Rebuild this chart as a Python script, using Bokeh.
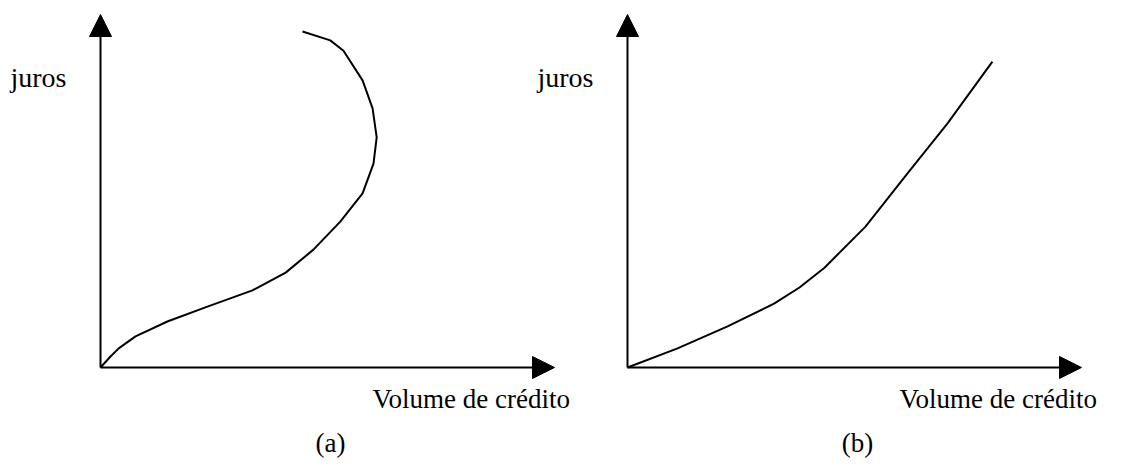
from bokeh.plotting import figure
from bokeh.models import Arrow, NormalHead, Range1d
from bokeh.core.properties import value
from bokeh.embed import file_html
from bokeh.resources import INLINE

# ---- data (arbitrary units, origin at each panel's axes) ----
vol_a = [0, 2.2, 4.0, 7.7, 14.7, 23.5, 33.4, 40.7, 46.8, 52.7, 57.6, 60.0, 60.7, 59.8, 57.6, 53.4, 50.5, 44.4]
juros_a = [0, 3.1, 5.4, 8.8, 13.0, 17.2, 21.8, 26.8, 33.3, 41.2, 49.2, 57.6, 65.0, 73.2, 81.1, 89.5, 92.4, 94.9]
vol_b = [0, 11.0, 22.0, 32.3, 37.8, 43.3, 52.3, 61.5, 70.3, 80.2]
juros_b = [0, 5.4, 11.6, 18.1, 22.6, 28.2, 39.8, 54.8, 68.9, 86.4]
y_label = "juros"
x_label = "Volume de crédito"
panel_labels = ["(a)", "(b)"]

# ---- layout ----
W, H = 1122, 467
PX_X, PX_Y = 4.55, 3.54          # pixels per data unit
ORIG_X, ORIG_Y = 100, 367        # canvas position of panel (a) origin
PANEL_OFFSET = 527 / PX_X        # panel (b) shift in data units
X_TIP, Y_TIP = 454 / PX_X, 353 / PX_Y
FONT = value("Liberation Serif")
FS = "27px"

p = figure(width=W, height=H, output_backend="svg", toolbar_location=None,
           x_axis_location=None, y_axis_location=None,
           x_range=Range1d(-ORIG_X / PX_X, (W - ORIG_X) / PX_X),
           y_range=Range1d(-(H - ORIG_Y) / PX_Y, ORIG_Y / PX_Y),
           min_border=0, outline_line_color=None)
p.grid.visible = False
p.background_fill_color = "white"
p.border_fill_color = "white"

for k, (vx, vy) in enumerate([(vol_a, juros_a), (vol_b, juros_b)]):
    off = k * PANEL_OFFSET
    # axes as arrows
    p.add_layout(Arrow(x_start=off, y_start=0, x_end=off + X_TIP, y_end=0,
                       line_width=2, line_color="black",
                       end=NormalHead(size=22, fill_color="black", line_color="black", line_width=1)))
    p.add_layout(Arrow(x_start=off, y_start=0, x_end=off, y_end=Y_TIP,
                       line_width=2, line_color="black",
                       end=NormalHead(size=22, fill_color="black", line_color="black", line_width=1)))
    p.line([x + off for x in vx], vy, line_width=2, line_color="black")
    p.text(x=[off - 90 / PX_X], y=[290 / PX_Y], text=[y_label], text_font=FONT,
           text_font_size="28px", text_baseline="alphabetic", text_align="left", text_color="black")
    p.text(x=[off + 272 / PX_X], y=[-31 / PX_Y], text=[x_label], text_font=FONT,
           text_font_size=FS, text_baseline="alphabetic", text_align="left", text_color="black")
    p.text(x=[off + 230 / PX_X], y=[-75 / PX_Y], text=[panel_labels[k]], text_font=FONT,
           text_font_size=FS, text_baseline="alphabetic", text_align="center", text_color="black")

open("out.html", "w").write(file_html(p, INLINE))
